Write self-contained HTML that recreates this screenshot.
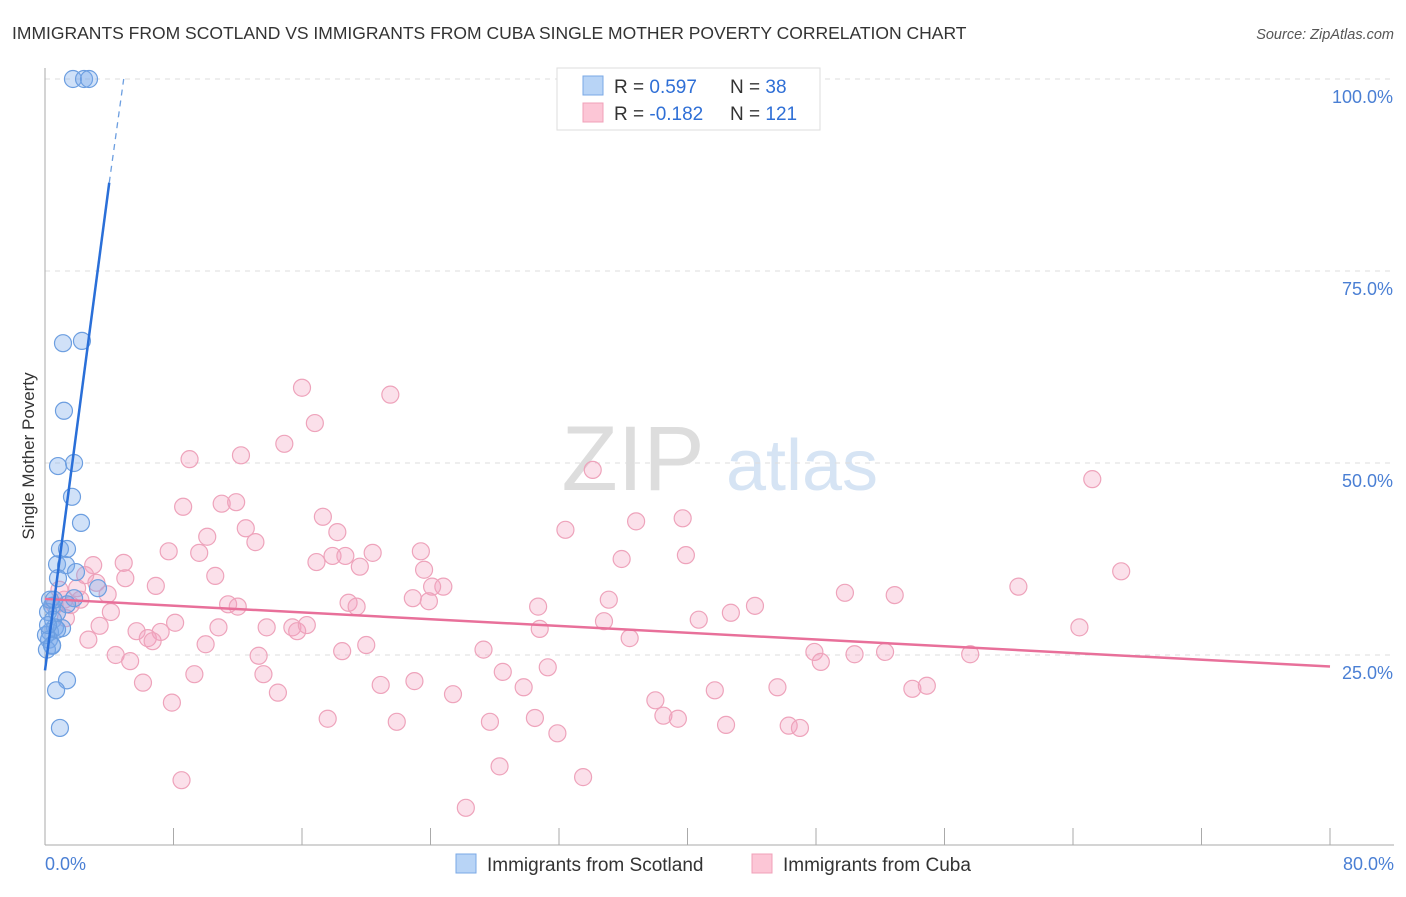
<!DOCTYPE html>
<html><head><meta charset="utf-8"><style>
body{margin:0;background:#fff;font-family:"Liberation Sans",sans-serif;}
svg text{font-family:"Liberation Sans",sans-serif;}
</style></head><body>
<svg id="chart" width="1406" height="892" xmlns="http://www.w3.org/2000/svg">
<text x="12" y="39" font-size="17.5" fill="#333">IMMIGRANTS FROM SCOTLAND VS IMMIGRANTS FROM CUBA SINGLE MOTHER POVERTY CORRELATION CHART</text>
<text x="1394" y="39" font-size="14.5" fill="#555" font-style="italic" text-anchor="end">Source: ZipAtlas.com</text>
<g>
<text x="633" y="490" font-size="92" fill="#ddd" font-family="Liberation Serif" text-anchor="middle">ZIP</text>
<text x="802" y="490" font-size="72" fill="#d6e4f4" text-anchor="middle">atlas</text>
</g>
<g id="grid"></g>
<g id="axes"></g>
<g id="pinkPts"></g>
<g id="bluePts"></g>
<g id="lines"></g>
<text transform="translate(34,456) rotate(-90)" font-size="17" fill="#333" text-anchor="middle">Single Mother Poverty</text>
<text x="45" y="870" font-size="18" fill="#4a7fd4">0.0%</text>
<text x="1394" y="870" font-size="18" fill="#4a7fd4" text-anchor="end">80.0%</text>
<g>
<rect x="557" y="68" width="263" height="62" fill="#fff" stroke="#ddd"/>
<rect x="583" y="76" width="20" height="19" fill="#b8d4f6" stroke="#7aa8e6"/>
<rect x="583" y="103" width="20" height="19" fill="#fcc6d6" stroke="#f0a0b8"/>
<text x="614" y="93" font-size="19" fill="#333">R = <tspan fill="#2f6fd6">0.597</tspan></text>
<text x="730" y="93" font-size="19" fill="#333">N = <tspan fill="#2f6fd6">38</tspan></text>
<text x="614" y="120" font-size="19" fill="#333">R = <tspan fill="#2f6fd6">-0.182</tspan></text>
<text x="730" y="120" font-size="19" fill="#333">N = <tspan fill="#2f6fd6">121</tspan></text>
</g>
<g>
<rect x="456" y="854" width="20" height="19" fill="#b8d4f6" stroke="#7aa8e6"/>
<text x="487" y="871" font-size="19" fill="#333">Immigrants from Scotland</text>
<rect x="752" y="854" width="20" height="19" fill="#fcc6d6" stroke="#f0a0b8"/>
<text x="783" y="871" font-size="19" fill="#333">Immigrants from Cuba</text>
</g>
</svg>
<script>
const yTicks=[25,50,75,100];
const yTickLabels=["25.0%","50.0%","75.0%","100.0%"];
const xTicks=[0,8,16,24,32,40,48,56,64,72,80];
const blueX=[1.74,2.43,2.74,1.12,2.30,1.18,0.81,1.81,1.68,2.24,0.93,1.37,0.75,1.31,0.81,1.93,3.30,1.81,1.37,0.75,0.44,0.19,0.50,0.62,0.31,1.06,0.75,0.25,0.44,0.12,1.37,0.69,0.93,0.31,0.06,0.19,0.56,0.44];
const blueY=[100,100,100,65.6,65.9,56.8,49.6,50.0,45.6,42.2,38.8,38.8,36.8,36.7,35.0,35.8,33.7,32.4,31.6,30.5,31.4,30.6,29.6,28.6,28.0,28.5,28.3,27.0,26.3,25.7,21.7,20.4,15.5,32.2,27.6,28.9,32.2,26.2];
const pinkX=[16.0,21.5,16.8,34.1,65.2,9.0,12.2,14.9,8.6,11.0,11.9,10.1,12.5,13.1,17.3,18.2,32.4,36.8,39.7,7.7,9.6,16.9,17.9,18.7,20.4,19.6,23.4,23.6,35.9,39.9,67.0,4.9,3.0,5.0,6.9,10.6,3.2,3.9,2.0,2.2,24.8,24.1,22.9,23.9,35.1,30.7,49.8,52.9,60.6,44.2,42.7,11.4,12.0,18.9,19.4,4.1,1.3,1.2,0.6,0.9,3.4,8.1,5.7,7.2,6.4,6.7,10.8,13.8,15.4,15.7,16.3,34.8,40.7,30.8,36.4,64.4,2.7,10.0,4.4,5.3,13.3,18.5,20.0,27.3,47.9,50.4,52.3,57.6,48.3,28.5,31.3,13.6,6.1,9.3,20.9,23.0,29.8,41.7,45.6,54.0,54.9,14.5,25.4,7.9,38.0,17.6,21.9,27.7,30.5,38.5,39.4,42.4,46.3,47.0,31.9,28.3,33.5,8.5,26.2,1.6,2.5];
const pinkY=[59.8,58.9,55.2,49.1,47.9,50.5,51.0,52.5,44.3,44.7,44.9,40.4,41.5,39.7,43.0,41.0,41.3,42.4,42.8,38.5,38.3,37.1,37.9,37.9,38.3,36.5,38.5,36.1,37.5,38.0,35.9,37.0,36.7,35.0,34.0,35.3,34.4,32.9,33.7,32.2,33.9,33.9,32.4,32.0,32.2,31.3,33.1,32.8,33.9,31.4,30.5,31.6,31.3,31.8,31.3,30.6,29.8,32.2,31.5,33.5,28.8,29.2,28.1,28.0,27.2,26.8,28.6,28.6,28.6,28.1,28.9,29.4,29.6,28.4,27.2,28.6,27.0,26.4,25.0,24.2,24.9,25.5,26.3,25.7,25.4,25.1,25.4,25.1,24.1,22.8,23.4,22.5,21.4,22.5,21.1,21.6,20.8,20.4,20.8,20.6,21.0,20.1,19.9,18.8,19.1,16.7,16.3,16.3,16.8,17.1,16.7,15.9,15.8,15.5,14.8,10.5,9.1,8.7,5.1,31.5,35.4];
const blueTrend=[[0,23.0],[4.0,86.5]];
const blueTrendDash=[[4.0,86.5],[4.9,100]];
const pinkTrend=[[0,32.3],[80,23.5]];
const NS='http://www.w3.org/2000/svg';
function sx(v){return 45+v/80*1285;}
function sy(v){return 847-v/100*768;}
function mk(tag,attrs,parent){const e=document.createElementNS(NS,tag);for(const k in attrs)e.setAttribute(k,attrs[k]);parent.appendChild(e);return e;}
const grid=document.getElementById('grid'),axes=document.getElementById('axes');
yTicks.forEach((t,i)=>{
 const l=mk('line',{x1:45,x2:1394,y1:sy(t),y2:sy(t),stroke:'#ddd','stroke-dasharray':'5,5'},grid);
 
 
 const tx=mk('text',{x:1393,y:sy(t)+24,'font-size':18,fill:'#4a7fd4','text-anchor':'end'},axes);
 tx.textContent=yTickLabels[i];
 
 
});
const yl=mk('line',{x1:45,x2:45,y1:68,y2:845,stroke:'#aaa'},axes);


const xl=mk('line',{x1:45,x2:1394,y1:845,y2:845,stroke:'#aaa'},axes);


xTicks.forEach(t=>{
 const l=mk('line',{x1:sx(t),x2:sx(t),y1:828,y2:845,stroke:'#aaa'},axes);
 
 
});
const pg=document.getElementById('pinkPts');
pinkX.forEach((x,i)=>{
 const c=mk('circle',{cx:sx(x),cy:sy(pinkY[i]),r:8.5,fill:'rgba(244,160,190,0.32)',stroke:'#eea3bb','stroke-width':1.2},pg);
 
 
});
const bg=document.getElementById('bluePts');
blueX.forEach((x,i)=>{
 const c=mk('circle',{cx:sx(x),cy:sy(blueY[i]),r:8.5,fill:'rgba(120,170,235,0.35)',stroke:'#6c9ee0','stroke-width':1.2},bg);
 
 
});
const lg=document.getElementById('lines');
const pl=mk('line',{x1:sx(pinkTrend[0][0]),y1:sy(pinkTrend[0][1]),x2:sx(pinkTrend[1][0]),y2:sy(pinkTrend[1][1]),stroke:'#e8709a','stroke-width':2.5},lg);


const bl=mk('line',{x1:sx(blueTrend[0][0]),y1:sy(blueTrend[0][1]),x2:sx(blueTrend[1][0]),y2:sy(blueTrend[1][1]),stroke:'#2a6fd8','stroke-width':2.5},lg);


const bd=mk('line',{x1:sx(blueTrendDash[0][0]),y1:sy(blueTrendDash[0][1]),x2:sx(blueTrendDash[1][0]),y2:sy(blueTrendDash[1][1]),stroke:'#6c9ee0','stroke-width':1.3,'stroke-dasharray':'6,5'},lg);


</script>
</body></html>
